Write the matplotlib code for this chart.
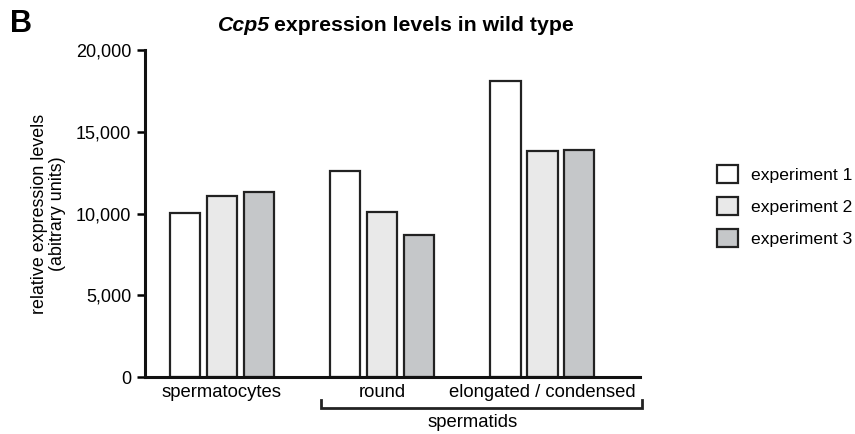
import matplotlib
matplotlib.use("Agg")
import matplotlib.pyplot as plt
import numpy as np

plt.rcParams['font.family'] = ['Liberation Sans', 'DejaVu Sans']

# data
cell_types = ['spermatocytes', 'round', 'elongated / condensed']
exp1 = [10010, 12580, 18100]
exp2 = [11070, 10090, 13820]
exp3 = [11310, 8670, 13860]
series_labels = ['experiment 1', 'experiment 2', 'experiment 3']
series_colors = ['#ffffff', '#e9e9e9', '#c5c7c9']
yticks = [0, 5000, 10000, 15000, 20000]

fig = plt.figure(figsize=(8.55, 4.34), dpi=100)
ax = fig.add_axes([0.1696, 0.1313, 0.579, 0.7535])

x = np.arange(len(cell_types))
width = 0.19
step = 0.23
for i, (vals, lab, col) in enumerate(zip([exp1, exp2, exp3], series_labels, series_colors)):
    ax.bar(x + (i - 1) * step, vals, width, color=col, edgecolor='#222222',
           linewidth=1.6, label=lab)

ax.set_xlim(-0.48, 2.61)
ax.set_ylim(0, 20000)
ax.set_yticks(yticks)
ax.set_yticklabels([f'{v:,}' for v in yticks], fontsize=13)
ax.set_xticks(x)
ax.set_xticklabels(cell_types, fontsize=13.3)
ax.tick_params(axis='x', length=0, pad=5)
ax.tick_params(axis='y', length=6, width=1.8, pad=4, direction='out')
for s in ['top', 'right']:
    ax.spines[s].set_visible(False)
for s in ['left', 'bottom']:
    ax.spines[s].set_linewidth(2.2)
    ax.spines[s].set_color('#111111')

ax.set_ylabel('relative expression levels\n(abitrary units)', fontsize=12.9,
              labelpad=7, linespacing=1.1)

# spermatids bracket
trans = ax.get_xaxis_transform()
ax.plot([0.617, 0.617, 2.623, 2.623], [-0.07, -0.095, -0.095, -0.07],
        transform=trans, color='#222222', lw=2, clip_on=False, solid_joinstyle='miter')
ax.text(1.567, -0.138, 'spermatids', transform=trans, ha='center', va='center',
        fontsize=13.3)

leg = ax.legend(loc='upper left', bbox_to_anchor=(1.142, 0.67), frameon=False,
                fontsize=12.6, handlelength=1.2, handleheight=1.2,
                handletextpad=0.75, labelspacing=0.8, borderaxespad=0)

# title with italic gene name
fig.canvas.draw()
r = fig.canvas.get_renderer()
t1 = fig.text(0.255, 0.942, 'Ccp5', fontsize=15.3, fontweight='bold', style='italic',
              ha='left', va='center')
bb = t1.get_window_extent(r)
fig.text(bb.x1 / fig.bbox.width + 0.005, 0.942, 'expression levels in wild type',
         fontsize=15.3, fontweight='bold', ha='left', va='center')

fig.text(0.012, 0.945, 'B', fontsize=22, fontweight='bold', ha='left', va='center')

fig.savefig('out.png', dpi=100)
